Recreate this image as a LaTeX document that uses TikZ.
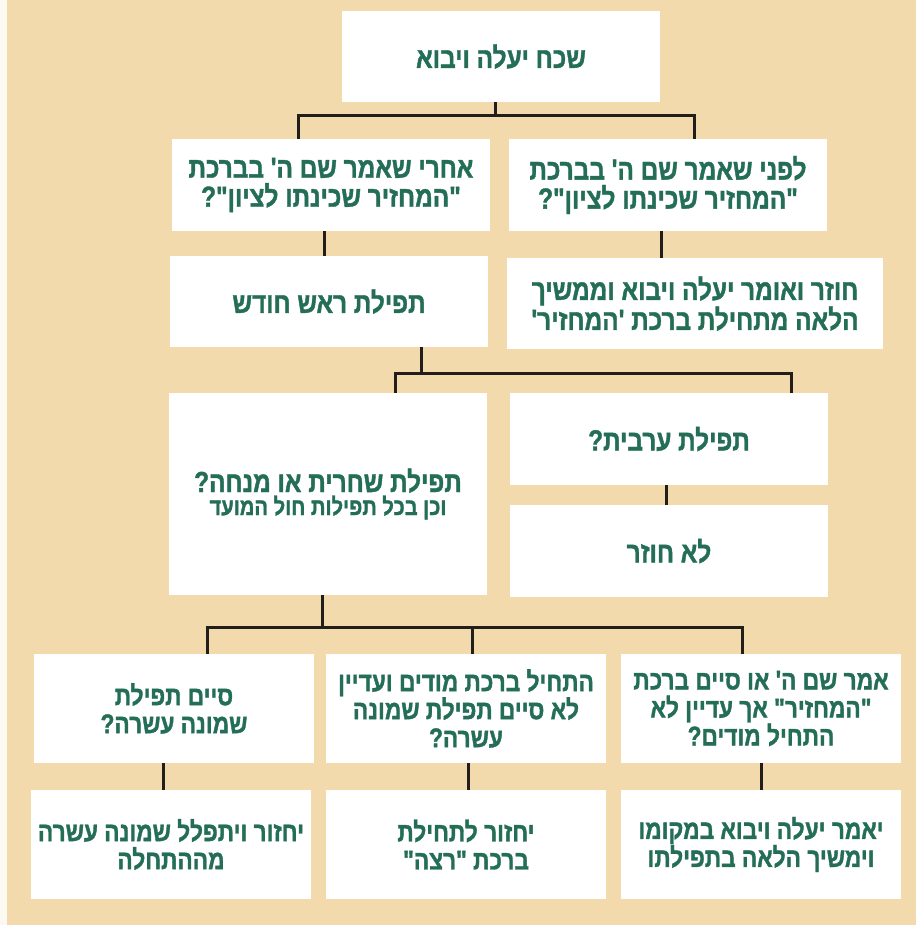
\documentclass[tikz,border=0pt]{standalone}
\usepackage{fontspec}
\newfontfamily\hebfont[Script=Hebrew,FakeStretch=0.84,FakeBold=1.3]{Liberation Sans Bold}
\TeXXeTstate=1
\usetikzlibrary{backgrounds}
\definecolor{bg}{RGB}{242,218,172}
\definecolor{edge}{RGB}{252,249,242}
\definecolor{txt}{RGB}{36,110,88}
\definecolor{ln}{RGB}{34,30,28}
\definecolor{shd}{RGB}{150,110,60}
\newcommand\RL[1]{\beginR #1\endR}
\tikzset{
  box/.style={rectangle, fill=white, inner sep=0pt, text=txt, align=center,
    font=\hebfont\fontsize{29}{29}\selectfont},
  small/.style={font=\hebfont\fontsize{27}{28}\selectfont},
  conn/.style={draw=ln, line width=3pt},
  halo/.style={fill=shd, opacity=0.075}
}
\begin{document}
\begin{tikzpicture}[x=1pt,y=-1pt]
\useasboundingbox (0,0) rectangle (916,925);
\fill[edge] (0,0) rectangle (916,925);
\fill[bg] (7,0) rectangle (916,925);

\node[box, minimum width=318pt, minimum height=91pt] (top) at (501,56.5) {\RL{שכח יעלה ויבוא}};

\node[box, minimum width=318pt, minimum height=92pt] (b2L) at (331,185) {\RL{אחרי שאמר שם ה' בברכת}\\\RL{"המחזיר שכינתו לציון"?}};
\node[box, minimum width=318pt, minimum height=92pt] (b2R) at (668,185) {\RL{לפני שאמר שם ה' בברכת}\\\RL{"המחזיר שכינתו לציון"?}};

\node[box, minimum width=318pt, minimum height=91pt] (b3L) at (329,301.5) {\RL{תפילת ראש חודש}};
\node[box, minimum width=376pt, minimum height=91pt] (b3R) at (695,303.5) {\RL{חוזר ואומר יעלה ויבוא וממשיך}\\\RL{הלאה מתחילת ברכת 'המחזיר'}};

\node[box, minimum width=318pt, minimum height=202pt] (b4L) at (328,494) {\RL{תפילת שחרית או מנחה?}\\[-6pt]{\fontsize{24}{25}\selectfont\RL{וכן בכל תפילות חול המועד}}};
\node[box, minimum width=318pt, minimum height=92pt] (b4R) at (669,439) {\RL{תפילת ערבית?}};
\node[box, minimum width=318pt, minimum height=92pt] (b5R) at (669,551) {\RL{לא חוזר}};

\node[box, small, minimum width=280pt, minimum height=109pt] (b6L) at (174,708.5) {\RL{סיים תפילת}\\\RL{שמונה עשרה?}};
\node[box, small, minimum width=280pt, minimum height=109pt] (b6M) at (466,708.5) {\RL{התחיל ברכת מודים ועדיין}\\\RL{לא סיים תפילת שמונה}\\\RL{עשרה?}};
\node[box, small, minimum width=280pt, minimum height=109pt] (b6R) at (761,708.5) {\RL{אמר שם ה' או סיים ברכת}\\\RL{"המחזיר" אך עדיין לא}\\\RL{התחיל מודים?}};

\node[box, small, minimum width=280pt, minimum height=109pt] (b7L) at (171,844.5) {\RL{יחזור ויתפלל שמונה עשרה}\\\RL{מההתחלה}};
\node[box, small, minimum width=280pt, minimum height=109pt] (b7M) at (466,844.5) {\RL{יחזור לתחילת}\\\RL{ברכת "רצה"}};
\node[box, small, minimum width=280pt, minimum height=109pt] (b7R) at (761,844.5) {\RL{יאמר יעלה ויבוא במקומו}\\\RL{וימשיך הלאה בתפילתו}};

% soft halos behind the boxes
\begin{pgfonlayer}{background}
\foreach \n in {top,b2L,b2R,b3L,b3R,b4L,b4R,b5R,b6L,b6M,b6R,b7L,b7M,b7R}{
  \foreach \r in {2,4,6,8,10}{
    \fill[halo, rounded corners=\r pt] ([xshift=-\r pt+1pt, yshift=\r pt-3pt]\n.north west) rectangle ([xshift=\r pt+1pt, yshift=-\r pt-3pt]\n.south east);
  }
}
\end{pgfonlayer}

% connectors
\coordinate (j1) at (495,116);
\draw[conn] (top.south -| j1) -- (j1);
\draw[conn] (b2L.north -| 298,0) |- (j1) -| (b2R.north -| 694,0);
\draw[conn] (b2L.south -| 324,0) -- (b3L.north -| 324,0);
\draw[conn] (b2R.south -| 661,0) -- (b3R.north -| 661,0);

\coordinate (j2) at (421,373);
\draw[conn] (b3L.south -| j2) -- (j2);
\draw[conn] (b4L.north -| 395,0) |- (j2) -| (b4R.north -| 791,0);
\draw[conn] (b4R.south -| 666,0) -- (b5R.north -| 666,0);

\coordinate (j3) at (322,627);
\draw[conn] (b4L.south -| j3) -- (j3);
\draw[conn] (b6L.north -| 207,0) |- (j3) -| (b6R.north -| 742,0);
\draw[conn] (b6M.north -| 472,0) -- (472,627);
\draw[conn] (b6L.south -| 163,0) -- (b7L.north -| 163,0);
\draw[conn] (b6M.south -| 468,0) -- (b7M.north -| 468,0);
\draw[conn] (b6R.south -| 761,0) -- (b7R.north -| 761,0);
\end{tikzpicture}
\end{document}
